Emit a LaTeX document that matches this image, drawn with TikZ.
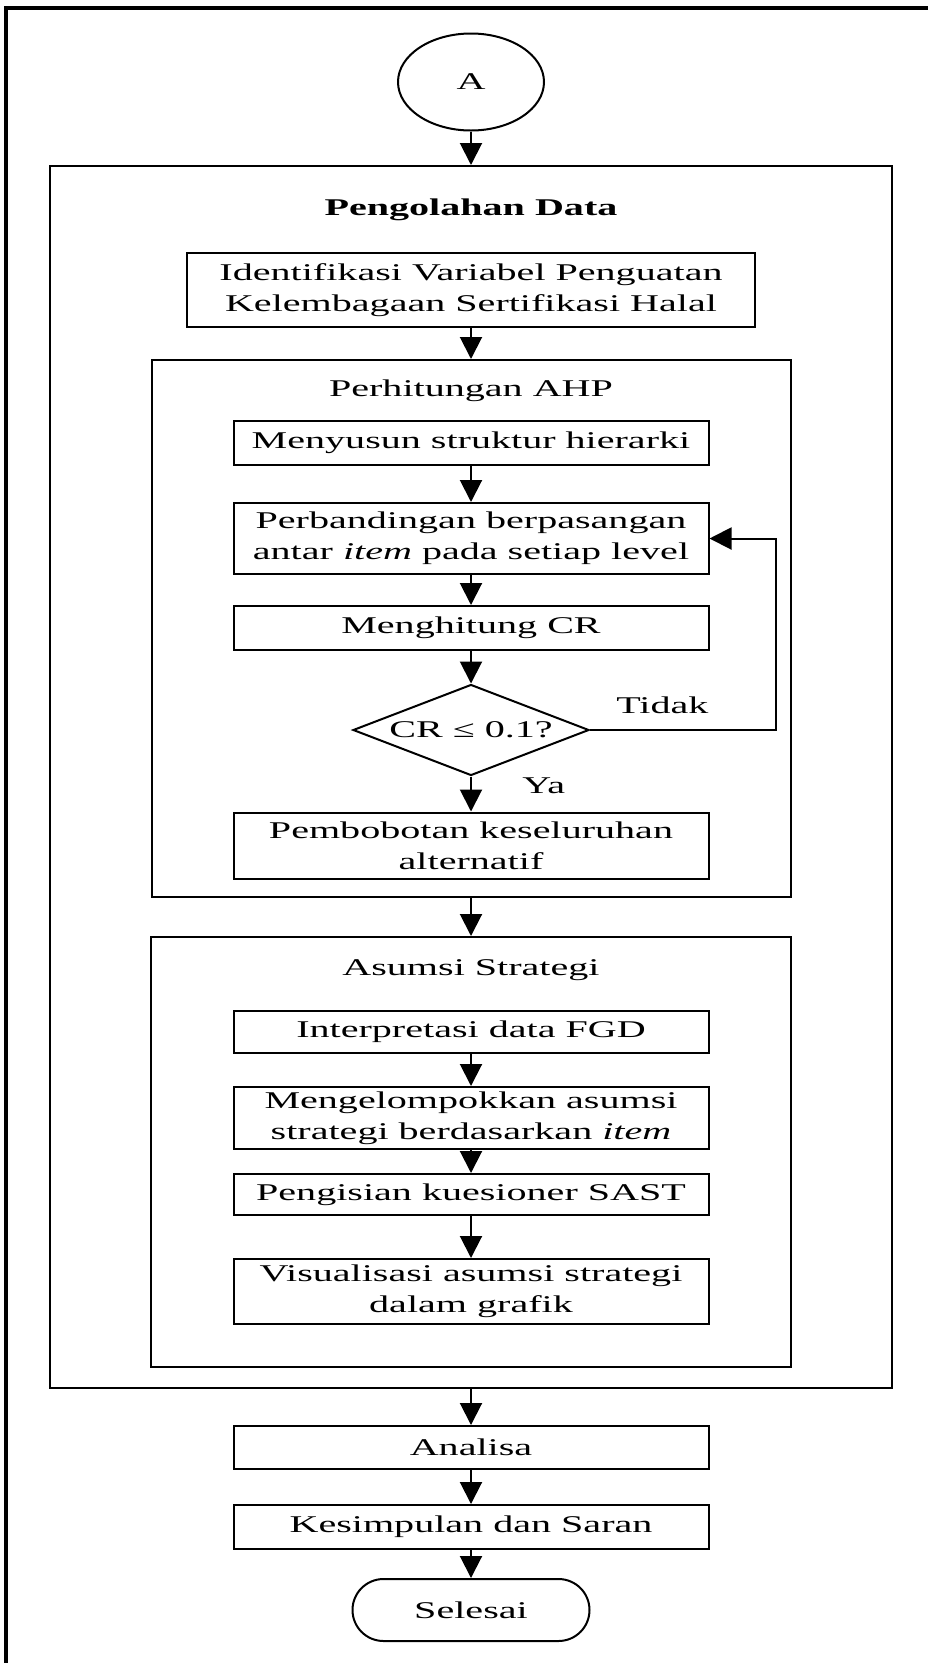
\documentclass[tikz,border=0pt]{standalone}
\usepackage{fontspec}
\setmainfont{Liberation Serif}[FakeStretch=1.67]
\usetikzlibrary{positioning, arrows.meta, shapes.geometric}

\begin{document}
\begin{tikzpicture}[
    x=1pt,
    y=-1pt,
    ->,
    >={Triangle[length=22pt, width=22pt]},
    line width=2pt,
    node distance=90pt,
    on grid,
    font=\fontsize{24}{31}\selectfont,
    process/.style={
        draw,
        fill=white,
        align=center,
        inner sep=0pt,
        minimum width=475pt,
        minimum height=44pt,
    },
    frame/.style={
        draw,
        inner sep=0pt,
        minimum width=640pt,
    },
    decision/.style={
        draw,
        diamond,
        aspect=2.6,
        inner sep=0pt,
        minimum width=236pt,
        minimum height=91pt,
    },
    terminal/.style={
        draw,
        rounded corners=31pt,
        minimum width=237pt,
        minimum height=62pt,
    },
]
\useasboundingbox (0,0) rectangle (928,1663);

% --- Outer frame ---
\draw[-, line width=3.5pt] (928,8) -- (6,8) -- (6,1663);

% --- Group frames ---
\node[frame, minimum width=842pt, minimum height=1222pt] (olah)   at (471,777)   {};
\node[frame, minimum width=639pt, minimum height=537pt]  (ahp)    at (471,628.5) {};
\node[frame, minimum height=430pt]                       (asumsi) at (471,1152)  {};

\node (judulolah)   at ([yshift=-45pt]olah.north)   {\bfseries Pengolahan Data};
\node (judulahp)    at ([yshift=-32pt]ahp.north)    {Perhitungan AHP};
\node (judulasumsi) at ([yshift=-34pt]asumsi.north) {Asumsi Strategi};

% --- Steps ---
\node[draw, ellipse, minimum width=146pt, minimum height=97pt] (a) at (471,82) {A};
\node[process, minimum width=568pt, minimum height=74pt] (identifikasi) [below=208pt of a]
    {Identifikasi Variabel Penguatan\\Kelembagaan Sertifikasi Halal};
\node[process]                     (menyusun)     [below=153pt of identifikasi] {Menyusun struktur hierarki};
\node[process, minimum height=71pt] (banding)     [below=95.5pt of menyusun]
    {Perbandingan berpasangan\\antar \textit{item} pada setiap level};
\node[process]                     (hitung)       [below=89.5pt of banding] {Menghitung CR};
\node[decision]                    (keputusan)    [below=102pt of hitung] {CR ≤ 0.1?};
\node[process, minimum height=66pt] (bobot)       [below=115.5pt of keputusan]
    {Pembobotan keseluruhan\\alternatif};
\node[process, minimum height=42pt] (interpretasi) [below=186.5pt of bobot] {Interpretasi data FGD};
\node[process, minimum height=62pt] (kelompok)    [below=86pt of interpretasi]
    {Mengelompokkan asumsi\\strategi berdasarkan \textit{item}};
\node[process, minimum height=41pt] (isian)       [below=76.5pt of kelompok] {Pengisian kuesioner SAST};
\node[process, minimum height=65pt] (visual)      [below=97pt of isian]
    {Visualisasi asumsi strategi\\dalam grafik};
\node[process, minimum height=43pt] (analisa)     [below=156pt of visual] {Analisa};
\node[process]                     (simpulan)     [below=79.5pt of analisa] {Kesimpulan dan Saran};
\node[terminal]                    (selesai)      [below=83pt of simpulan] {Selesai};

\coordinate[right=305pt of banding] (putar);

% --- Labels ---
\node[anchor=base west] (tidak) at ([xshift=22pt, yshift=17pt]keputusan.east)  {Tidak};
\node[anchor=base west] (ya)    at ([xshift=47pt, yshift=-17pt]keputusan.south) {Ya};

% --- Connectors ---
\path
    (a)            edge (olah.north)
    (identifikasi) edge (ahp.north)
    (menyusun)     edge (banding)
    (banding)      edge (hitung)
    (hitung)       edge (keputusan)
    (keputusan)    edge (bobot)
    (ahp.south)    edge (asumsi.north)
    (interpretasi) edge (kelompok)
    (kelompok)     edge (isian)
    (isian)        edge (visual)
    (olah.south)   edge (analisa)
    (analisa)      edge (simpulan)
    (simpulan)     edge (selesai)
;
\draw (keputusan.east) -| (putar) -- (banding.east);

\end{tikzpicture}
\end{document}
